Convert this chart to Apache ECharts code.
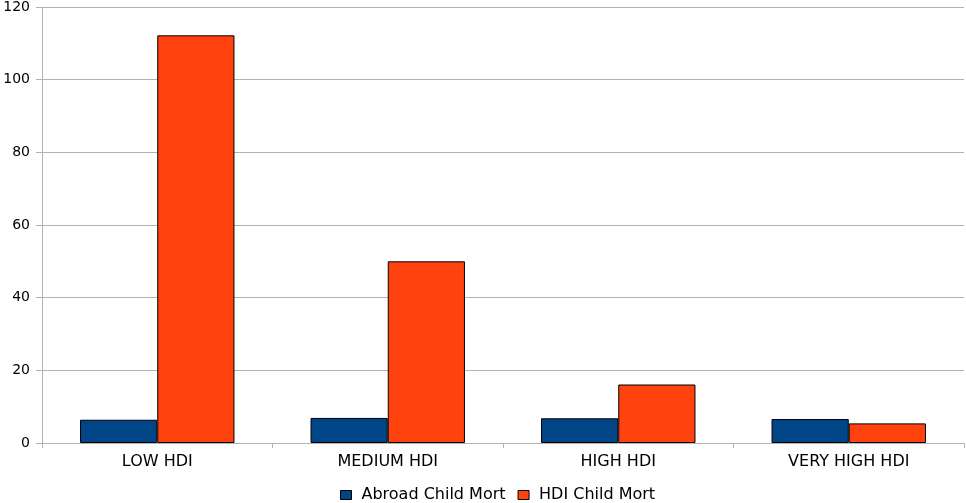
<!DOCTYPE html>
<html>
<head>
<meta charset="utf-8">
<title>Child mortality by HDI group</title>
<script src="https://cdn.jsdelivr.net/npm/echarts@6/dist/echarts.min.js"></script>
<style>
  html, body { margin: 0; padding: 0; background: #ffffff; }
  #chart { width: 966px; height: 503px; }
</style>
</head>
<body>
<div id="chart"></div>
<script>
// HDI groups and child mortality per group
const categories = ['LOW HDI', 'MEDIUM HDI', 'HIGH HDI', 'VERY HIGH HDI'];
const abroadChildMort = [6.4, 6.9, 6.8, 6.6];
const hdiChildMort = [112.2, 50.0, 16.1, 5.4];
const seriesNames = ['Abroad Child Mort', 'HDI Child Mort'];

const chart = echarts.init(document.getElementById('chart'), null, { renderer: 'canvas' });

const font = 'DejaVu Sans, Liberation Sans, sans-serif';
const gridColor = '#b3b3b3';

chart.setOption({
  animation: false,
  textStyle: { fontFamily: font },
  grid: { left: 42, right: 2, top: 7, bottom: 60, containLabel: false },
  legend: {
    top: 482,
    left: 335,
    itemWidth: 11,
    itemHeight: 9,
    itemGap: 12,
    icon: 'rect',
    itemStyle: { borderColor: '#000', borderWidth: 1 },
    textStyle: { fontFamily: font, fontSize: 16, color: '#000', padding: [0, 0, 0, 5] },
    data: seriesNames
  },
  xAxis: {
    type: 'category',
    data: categories,
    axisLine: { lineStyle: { color: gridColor, width: 1 } },
    axisTick: { show: true, length: 5, lineStyle: { color: gridColor } },
    axisLabel: { color: '#000', fontSize: 16, fontFamily: font, margin: 11 },
    splitLine: { show: false }
  },
  yAxis: {
    type: 'value',
    min: 0,
    max: 120,
    interval: 20,
    axisLine: { show: true, lineStyle: { color: gridColor, width: 1 } },
    axisTick: { show: true, length: 6, lineStyle: { color: gridColor } },
    axisLabel: { color: '#000', fontSize: 14, fontFamily: font, margin: 12 },
    splitLine: { show: true, lineStyle: { color: gridColor, width: 1 } }
  },
  series: [
    {
      name: seriesNames[0],
      type: 'bar',
      data: abroadChildMort,
      barGap: '0%',
      barCategoryGap: '33%',
      itemStyle: { color: '#004586', borderColor: '#000', borderWidth: 1 }
    },
    {
      name: seriesNames[1],
      type: 'bar',
      data: hdiChildMort,
      barGap: '0%',
      barCategoryGap: '33%',
      itemStyle: { color: '#ff420e', borderColor: '#000', borderWidth: 1 }
    }
  ]
});
</script>
</body>
</html>
